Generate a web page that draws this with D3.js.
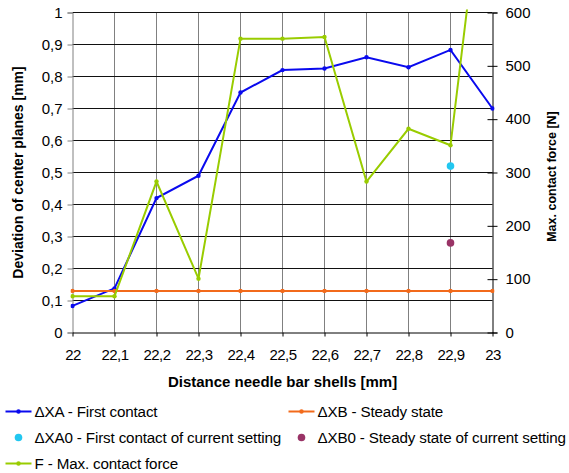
<!DOCTYPE html>
<html>
<head>
<meta charset="utf-8">
<script src="https://cdn.jsdelivr.net/npm/d3@7/dist/d3.min.js"></script>
<style>
  html, body { margin: 0; padding: 0; background: #fff; }
  svg { display: block; }
  text { font-family: "Liberation Sans", Arial, sans-serif; fill: #000; }
</style>
</head>
<body>
<svg id="chart" width="569" height="473"></svg>
<script>
// Distance between needle bar shells [mm]
const distances = [22, 22.1, 22.2, 22.3, 22.4, 22.5, 22.6, 22.7, 22.8, 22.9, 23];
const distanceLabels = ["22", "22,1", "22,2", "22,3", "22,4", "22,5", "22,6", "22,7", "22,8", "22,9", "23"];

// ΔXA - first contact [mm]
const deltaXA = [0.083, 0.138, 0.42, 0.49, 0.75, 0.82, 0.825, 0.86, 0.829, 0.883, 0.70];
// ΔXB - steady state [mm]
const deltaXB = [0.13, 0.13, 0.13, 0.13, 0.13, 0.13, 0.13, 0.13, 0.13, 0.13, 0.13];
// F - max. contact force [N]
const contactForce = [68, 68, 283, 101, 551, 551, 554, 283, 382, 351, 1000];

// Current setting
const currentDistance = [22.9];
const deltaXA0 = [0.52];
const deltaXB0 = [0.28];

// Axis ticks
const leftTicks = [0, 0.1, 0.2, 0.3, 0.4, 0.5, 0.6, 0.7, 0.8, 0.9, 1];
const leftTickLabels = ["0", "0,1", "0,2", "0,3", "0,4", "0,5", "0,6", "0,7", "0,8", "0,9", "1"];
const rightTicks = [0, 100, 200, 300, 400, 500, 600];
const rightTickLabels = ["0", "100", "200", "300", "400", "500", "600"];

const colors = {
  xa: "#0a0aee",
  xb: "#f26a1b",
  xa0: "#22c7f0",
  xb0: "#993366",
  f: "#99cc00"
};

const plot = { left: 72.5, top: 12.5, width: 420, height: 320 };

const svg = d3.select("#chart");
const g = svg.append("g").attr("transform", `translate(${plot.left},${plot.top})`);

const x = d3.scaleLinear().domain([22, 23]).range([0, plot.width]);
const yL = d3.scaleLinear().domain([0, 1]).range([plot.height, 0]);
const yR = d3.scaleLinear().domain([0, 600]).range([plot.height, 0]);

// clip area for the series
svg.append("defs").append("clipPath").attr("id", "plotClip")
  .append("rect").attr("x", -2).attr("y", -3).attr("width", plot.width + 4).attr("height", plot.height + 6);

// vertical grid
g.append("g").selectAll("line")
  .data(distances.filter(d => d > 22 && d < 23))
  .join("line")
  .attr("x1", d => x(d)).attr("x2", d => x(d))
  .attr("y1", 0).attr("y2", plot.height)
  .attr("stroke", "#808080").attr("stroke-width", 1);

// horizontal grid (left axis)
g.append("g").selectAll("line")
  .data(leftTicks.filter(d => d > 0))
  .join("line")
  .attr("x1", 0).attr("x2", plot.width)
  .attr("y1", d => yL(d)).attr("y2", d => yL(d))
  .attr("stroke", "#111").attr("stroke-width", 1);

// left axis
const leftAxis = d3.axisLeft(yL).tickValues(leftTicks)
  .tickFormat((d, i) => leftTickLabels[i]).tickSize(5).tickPadding(5);
const la = g.append("g").call(leftAxis);
la.select(".domain").attr("stroke", "#808080");
la.selectAll(".tick line").attr("stroke", "#808080");
la.selectAll("text").style("font-size", "15px").style("font-family", '"Liberation Sans", Arial, sans-serif');

// bottom axis
const bottomAxis = d3.axisBottom(x).tickValues(distances)
  .tickFormat((d, i) => distanceLabels[i]).tickSizeInner(4).tickSizeOuter(0).tickPadding(13);
const ba = g.append("g").attr("transform", `translate(0,${plot.height})`).call(bottomAxis);
ba.select(".domain").attr("stroke", "#000");
ba.selectAll(".tick line").attr("stroke", "#000");
ba.selectAll("text").style("font-size", "15px").style("font-family", '"Liberation Sans", Arial, sans-serif')
  .attr("letter-spacing", "-0.5");

// right axis
const rightAxis = d3.axisRight(yR).tickValues(rightTicks)
  .tickFormat((d, i) => rightTickLabels[i]).tickSize(5).tickPadding(8);
const ra = g.append("g").attr("transform", `translate(${plot.width},0)`).call(rightAxis);
ra.select(".domain").attr("stroke", "#000");
ra.selectAll(".tick line").attr("stroke", "#000").attr("x1", -5);
ra.selectAll("text").style("font-size", "15px").style("font-family", '"Liberation Sans", Arial, sans-serif');

// series
const series = g.append("g").attr("clip-path", "url(#plotClip)");

function drawLine(values, scale, color) {
  const pts = distances.map((d, i) => [x(d), scale(values[i])]);
  series.append("path")
    .attr("d", d3.line()(pts))
    .attr("fill", "none").attr("stroke", color).attr("stroke-width", 2)
    .attr("stroke-linejoin", "miter");
  series.append("g").selectAll("circle")
    .data(pts).join("circle")
    .attr("cx", p => p[0]).attr("cy", p => p[1]).attr("r", 2.2)
    .attr("fill", color);
}

drawLine(deltaXA, yL, colors.xa);
drawLine(deltaXB, yL, colors.xb);

series.append("g").selectAll("circle")
  .data(currentDistance).join("circle")
  .attr("cx", d => x(d)).attr("cy", (d, i) => yL(deltaXA0[i])).attr("r", 3.8)
  .attr("fill", colors.xa0);
series.append("g").selectAll("circle")
  .data(currentDistance).join("circle")
  .attr("cx", d => x(d)).attr("cy", (d, i) => yL(deltaXB0[i])).attr("r", 3.8)
  .attr("fill", colors.xb0);

drawLine(contactForce, yR, colors.f);

// axis titles
svg.append("text")
  .attr("transform", `translate(22.5,${plot.top + plot.height / 2}) rotate(-90)`)
  .attr("text-anchor", "middle")
  .style("font-size", "14px").style("font-weight", "bold")
  .text("Deviation of center planes  [mm]");

svg.append("text")
  .attr("transform", `translate(555.5,${plot.top + plot.height / 2 + 4}) rotate(-90)`)
  .attr("text-anchor", "middle")
  .style("font-size", "12.5px").style("font-weight", "bold")
  .text("Max. contact force [N]");

svg.append("text")
  .attr("x", plot.left + plot.width / 2).attr("y", 387)
  .attr("text-anchor", "middle")
  .style("font-size", "15px").style("font-weight", "bold")
  .text("Distance needle bar shells [mm]");

// legend
const legendItems = [
  { label: "\u0394XA - First contact", color: colors.xa, type: "line", col: 0, row: 0 },
  { label: "\u0394XB - Steady state", color: colors.xb, type: "line", col: 1, row: 0 },
  { label: "\u0394XA0 - First contact of current setting", color: colors.xa0, type: "dot", col: 0, row: 1 },
  { label: "\u0394XB0 - Steady state of current setting", color: colors.xb0, type: "dot", col: 1, row: 1 },
  { label: "F - Max. contact force", color: colors.f, type: "line", col: 0, row: 2 }
];
const colX = [5.5, 288.5];
const rowY = [411.5, 437.5, 463.5];

const lg = svg.append("g");
legendItems.forEach(it => {
  const lx = colX[it.col], ly = rowY[it.row];
  const item = lg.append("g");
  if (it.type === "line") {
    item.append("line").attr("x1", lx).attr("x2", lx + 26).attr("y1", ly).attr("y2", ly)
      .attr("stroke", it.color).attr("stroke-width", 2);
    item.append("circle").attr("cx", lx + 13).attr("cy", ly).attr("r", 2.2).attr("fill", it.color);
  } else {
    item.append("circle").attr("cx", lx + 13).attr("cy", ly).attr("r", 3.8).attr("fill", it.color);
  }
  item.append("text")
    .attr("x", lx + 29).attr("y", ly + 5.4)
    .style("font-size", "15.2px")
    .attr("letter-spacing", "-0.15")
    .text(it.label);
});
</script>
</body>
</html>
